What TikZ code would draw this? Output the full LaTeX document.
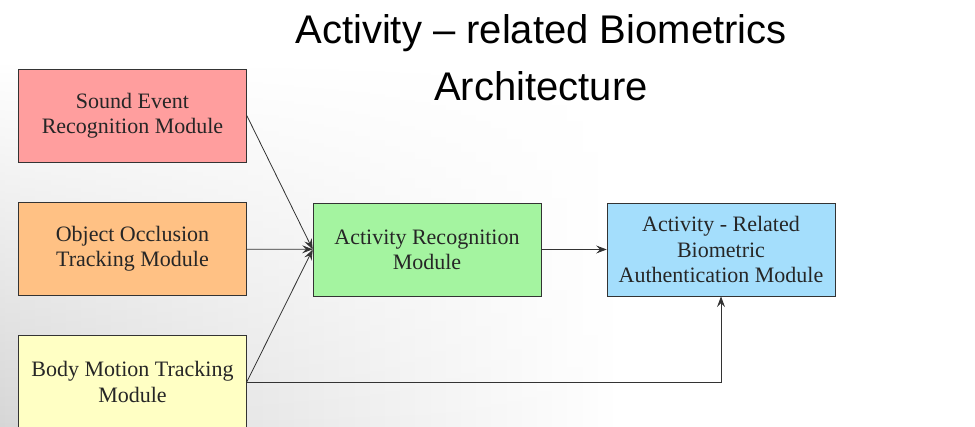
\documentclass[tikz,border=0pt]{standalone}
\usepackage{fontspec}
\setmainfont{Liberation Serif}
\newfontfamily\titlefont{Liberation Sans}
\usepackage{xcolor}
\usetikzlibrary{arrows.meta,shapes,fadings}

\definecolor{soundcol}{HTML}{FF9E9E}
\definecolor{occlcol}{HTML}{FFC184}
\definecolor{bodycol}{HTML}{FFFFC4}
\definecolor{actcol}{HTML}{A4F4A0}
\definecolor{biocol}{HTML}{A4DEFC}

\begin{document}
\begin{tikzpicture}[>={Stealth[length=8pt,width=6pt,inset=3pt]},x=0.75pt,y=-0.75pt]
  \tikzstyle{mod}=[rectangle,draw=black!80,thin,minimum width=171pt,minimum height=70pt,align=center,text=black!85,font=\fontsize{16.5}{19}\selectfont,inner sep=2pt]
  \tikzstyle{link}=[->,draw=black!80,line width=0.6pt]
  \useasboundingbox (0,0) rectangle (975,427);
  % faded backdrop
  \shade[left color=black!16,right color=white,path fading=north] (0,60) rectangle (620,427);
  \node(title) at (541,58)[align=center,font=\titlefont\fontsize{30}{43}\selectfont]{Activity \textendash{} related Biometrics\\Architecture};
  \node(sound) at (132.5,115.5)[mod,fill=soundcol]{Sound Event\\Recognition Module};
  \node(occl) at (132.5,249)[mod,fill=occlcol]{Object Occlusion\\Tracking Module};
  \node(body) at (132.5,382)[mod,fill=bodycol]{Body Motion Tracking\\Module};
  \node(act) at (427,249.5)[mod,fill=actcol]{Activity Recognition\\Module};
  \node(bio) at (721,249.5)[mod,fill=biocol]{Activity - Related\\Biometric\\Authentication Module};
  \draw[link](sound.east)--(act.west);
  \draw[link](occl)--(act);
  \draw[link](body.east)--(act.west);
  \draw[link](act)--(bio);
  \draw[link](body.east)-|(bio.south);
\end{tikzpicture}
\end{document}
